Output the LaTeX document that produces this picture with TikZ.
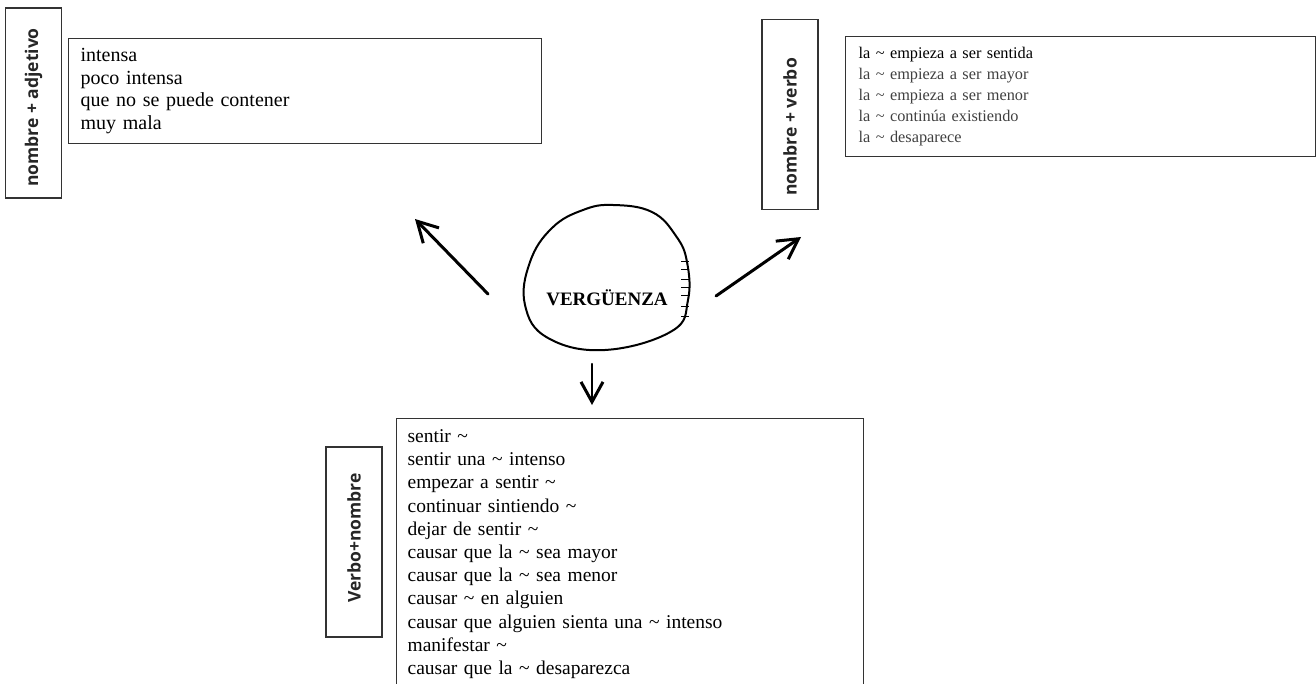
\documentclass[tikz,border=0pt]{standalone}
\usepackage{fontspec}
\setmainfont{Liberation Serif}
\newfontfamily\rotulofont{Open Sans}
\usetikzlibrary{positioning, arrows.meta}
\newcommand{\ondita}{\textasciitilde}

\tikzset{
    caja/.style={draw=black!80, line width=1.2pt, align=left, anchor=north west},
    marco/.style={draw=black!80, line width=1.2pt, minimum width=56pt, minimum height=190pt, inner sep=0pt},
    rotulo/.style={font=\rotulofont\bfseries\fontsize{17.5pt}{19pt}\selectfont, rotate=90, text=black!85},
    flecha/.style={line width=3pt, line cap=round, -{Straight Barb[length=20pt, width=22pt, line width=3pt]}},
}

\begin{document}
\begin{tikzpicture}[x=1pt, y=-1pt]
    \path[use as bounding box, clip] (0,0) rectangle (1316,684);

    % nombre + adjetivo
    \node[marco] (f-adj) at (33.5,103) {};
    \node[rotulo] at ([yshift=-4.5pt]f-adj.center) {nombre + adjetivo};
    \node[caja, text width=449pt, inner xsep=12pt, minimum height=105pt,
          font=\fontsize{20pt}{22.5pt}\selectfont] (adj) at (68,38)
        {intensa\\ poco intensa\\ que no se puede contener\\ muy mala};

    % nombre + verbo
    \node[marco] (f-verbo) at (790,114.5) {};
    \node[rotulo] at ([yshift=-12.5pt]f-verbo.center) {nombre + verbo};
    \node[caja, text width=444pt, inner xsep=13pt, minimum height=120pt,
          font=\fontsize{16.3pt}{21pt}\selectfont] (verbo) at (845,36)
        {la \ondita{} empieza a ser sentida\\
         \color{black!75}la \ondita{} empieza a ser mayor\\
         \color{black!75}la \ondita{} empieza a ser menor\\
         \color{black!75}la \ondita{} contin\'ua existiendo\\
         \color{black!75}la \ondita{} desaparece};

    % verbo + nombre
    \node[marco] (f-vn) at (354,542) {};
    \node[rotulo] at ([yshift=4pt]f-vn.center) {Verbo+nombre};
    \node[caja, text width=445pt, inner xsep=11pt, inner ysep=11pt,
          font=\fontsize{19.5pt}{23.2pt}\selectfont] (vn) at (396,418)
        {sentir \ondita\\ sentir una \ondita{} intenso\\ empezar a sentir \ondita\\
         continuar sintiendo \ondita\\ dejar de sentir \ondita\\
         causar que la \ondita{} sea mayor\\ causar que la \ondita{} sea menor\\
         causar \ondita{} en alguien\\ causar que alguien sienta una \ondita{} intenso\\
         manifestar \ondita\\ causar que la \ondita{} desaparezca};

    % centro
    \node[font=\bfseries\fontsize{19pt}{19pt}\selectfont] (verg) at (607,298) {VERGÜENZA};
    \draw[line width=2pt] plot[smooth cycle, tension=0.7] coordinates
        {(613,205) (652,212) (676,236) (687,262) (688,300) (672,331) (605,350)
         (548,338) (525,305) (530,262) (552,228) (583,210)};
    \foreach \y in {262,270,280,288,296,307,317}
        \draw[line width=1pt] (681,\y) -- (689,\y);

    % flechas
    \coordinate (a-adj) at (488,294);
    \coordinate (b-adj) at (415,219);
    \coordinate (a-verbo) at (716,296);
    \coordinate (b-verbo) at (801,237);
    \coordinate (a-vn) at (592,364);
    \coordinate (b-vn) at (592,405);
    \draw[flecha] (a-adj) -- (b-adj);
    \draw[flecha] (a-verbo) -- (b-verbo);
    \draw[flecha, line width=2.5pt] (a-vn) -- (b-vn);
\end{tikzpicture}
\end{document}
